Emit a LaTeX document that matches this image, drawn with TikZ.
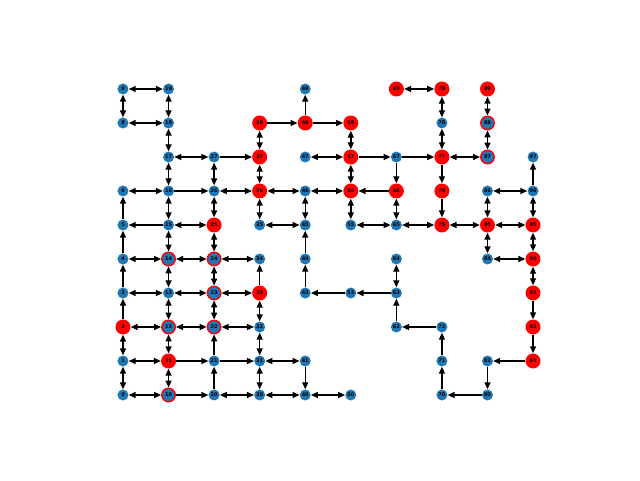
\documentclass[tikz,border=0pt]{standalone}
\usepackage{fontspec}
\setmainfont{DejaVu Sans}
\usepackage{tikz}
\usetikzlibrary{arrows.meta}
\definecolor{nblue}{RGB}{31,119,180}
\tikzstyle{bnode} = [circle,fill=nblue,inner sep=0pt,minimum size=11pt,font=\fontsize{5}{6}\selectfont\bfseries]
\tikzstyle{rnode} = [bnode,fill=red,minimum size=15pt]
\tikzstyle{ringnode} = [bnode,draw=red,line width=1.4pt,minimum size=13.5pt]
\tikzstyle{oneway} = [-{Triangle[length=7pt,width=6pt]},line width=1.4pt]
\tikzstyle{twoway} = [{Triangle[length=7pt,width=6pt]}-{Triangle[length=7pt,width=6pt]},line width=1.4pt]

\begin{document}
\begin{tikzpicture}[x=45.56pt,y=34pt]
    \useasboundingbox (-123pt,-85pt) rectangle (517pt,395pt);

    % nodes: id = 10*column + row
    \foreach \i in {0,1,3,4,5,6,8,9,13,15,16,17,18,19,20,21,26,27,30,31,32,34,35,40,41,43,44,45,46,47,49,50,53,55,62,63,64,65,67,70,71,72,78,80,81,84,86,96,97} {
      \pgfmathtruncatemacro\cx{\i/10}
      \pgfmathtruncatemacro\ry{\i-10*\cx}
      \node [bnode] (n\i) at (\cx,\ry) {\i};
    }
    \foreach \i in {2,11,25,33,36,37,38,48,56,57,58,66,69,75,76,77,79,85,89,91,92,93,94,95} {
      \pgfmathtruncatemacro\cx{\i/10}
      \pgfmathtruncatemacro\ry{\i-10*\cx}
      \node [rnode] (n\i) at (\cx,\ry) {\i};
    }
    \foreach \i in {10,12,14,22,23,24,87,88} {
      \pgfmathtruncatemacro\cx{\i/10}
      \pgfmathtruncatemacro\ry{\i-10*\cx}
      \node [ringnode] (n\i) at (\cx,\ry) {\i};
    }

    % edges both ways
    \foreach \a/\b in {9/19,9/8,19/18,8/18,18/17,17/27,38/37,37/36,17/16,27/26,6/16,26/36,36/46,16/15,26/25,36/35,15/25,35/45,
      4/14,14/24,24/34,3/13,13/23,23/33,14/13,24/23,25/24,15/14,2/12,12/22,22/32,13/12,23/22,33/32,2/1,12/11,32/31,1/11,
      31/41,1/0,11/10,31/30,0/10,20/30,30/40,40/50,58/57,47/57,57/56,46/56,46/45,56/55,55/65,66/65,65/75,64/63,69/79,
      79/78,78/77,89/88,88/87,77/87,86/96,86/85,96/95,75/85,85/95,85/84,95/94,84/94,94/93}
      \draw [twoway] (n\a) -- (n\b);

    % edges one way
    \foreach \a/\b in {27/37,16/26,5/6,15/5,4/5,3/4,2/3,33/34,21/22,11/21,21/31,20/21,10/20,41/40,48/49,38/48,48/58,
      57/67,66/56,67/66,44/45,43/44,53/43,63/53,62/63,72/62,67/77,77/76,76/75,96/97,93/92,92/91,91/81,81/80,80/70,
      70/71,71/72}
      \draw [oneway] (n\a) -- (n\b);
  \end{tikzpicture}
\end{document}
